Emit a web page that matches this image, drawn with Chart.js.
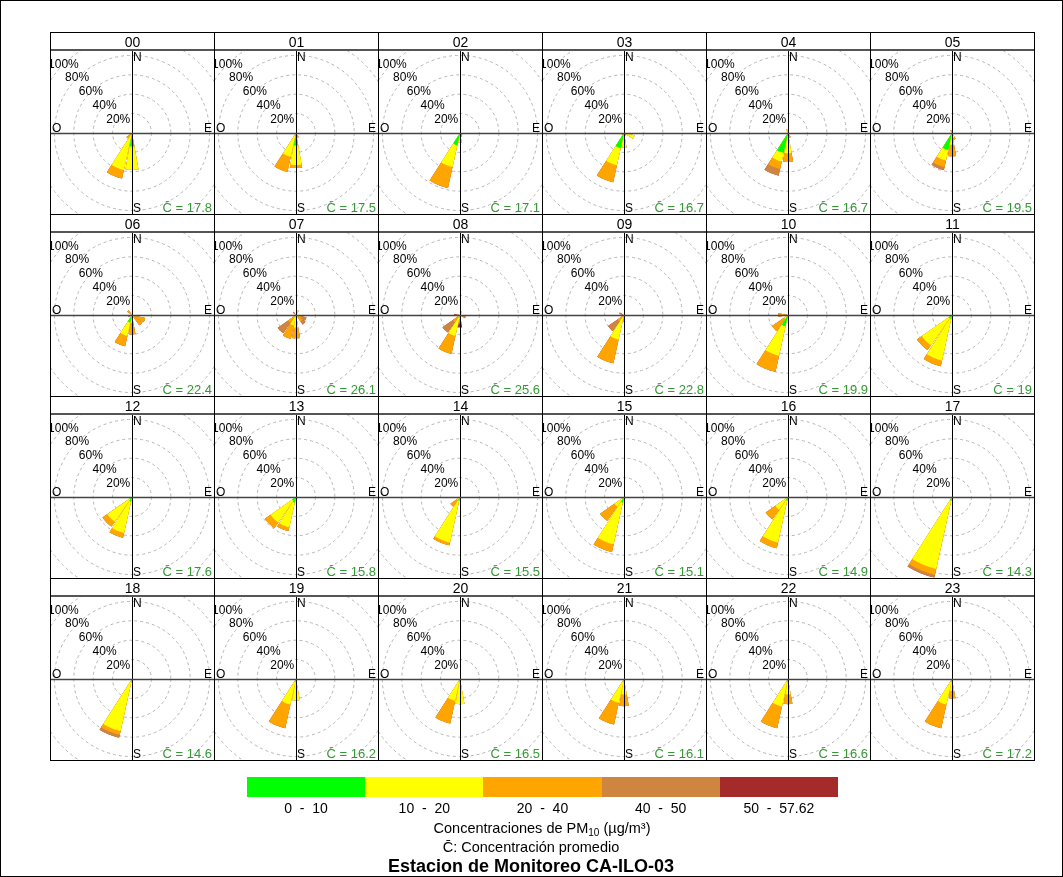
<!DOCTYPE html>
<html>
<head>
<meta charset="utf-8">
<script src="https://cdn.jsdelivr.net/npm/chart.js@4/dist/chart.umd.min.js"></script>
<style>
  body { margin: 0; background: #fff; font-family: "Liberation Sans", Arial, sans-serif; }
  #page { position: relative; width: 1063px; height: 877px; overflow: hidden; }
  #frame { position: absolute; left: 0; top: 0; width: 1061px; height: 875px; border: 1px solid #000; }
  .panel { position: absolute; width: 165px; height: 183px; border: 1px solid #000; box-sizing: border-box; overflow: hidden; }
  .strip { position: absolute; z-index: 3; left: 0; top: 0; width: 163px; height: 16px; border-bottom: 2px solid #555; text-align: center; font-size: 14px; line-height: 18px; }
  .plot { position: absolute; left: 0; top: 18px; width: 163px; height: 163px; overflow: hidden; clip-path: inset(0); }
  .plot canvas { position: absolute; left: -16px; top: -15px; }
  .lbl { position: absolute; font-size: 12px; line-height: 12px; white-space: pre; }
  .cbar { position: absolute; color: #339933; font-size: 13px; line-height: 12px; right: 2px; top: 151px; white-space: pre; }
  .key { position: absolute; top: 777px; height: 20px; }
  .keytxt { position: absolute; font-size: 14px; white-space: pre; transform: translate(-50%, -50%); }
</style>
</head>
<body>
<div id="page"><div id="frame"></div></div>
<script>
const hourLabels = ['00', '01', '02', '03', '04', '05', '06', '07', '08', '09', '10', '11',
  '12', '13', '14', '15', '16', '17', '18', '19', '20', '21', '22', '23'];
const directions = ['N', 'NNE', 'NE', 'ENE', 'E', 'ESE', 'SE', 'SSE', 'S', 'SSW', 'SW', 'WSW', 'W', 'WNW', 'NW', 'NNW'];
const binLabels = ['0  -  10', '10  -  20', '20  -  40', '40  -  50', '50  -  57.62'];
const binColors = ['#00ff00', '#ffff00', '#ffa500', '#cd853f', '#a52a2a'];
const ringTicks = [20, 40, 60, 80, 100];
const meanConc = [17.8, 17.5, 17.1, 16.7, 16.7, 19.5, 22.4, 26.1, 25.6, 22.8, 19.9, 19,
  17.6, 15.8, 15.5, 15.1, 14.9, 14.3, 14.6, 16.2, 16.5, 16.1, 16.6, 17.2];

// frequency (%) by direction: [dir, 0-10, 10-20, 20-40, 40-50, 50-57.62]
const hour00 = [['S', 14, 24, 0, 0, 0], ['SSW', 2, 37, 9, 0, 0], ['SW', 0, 2, 5, 0, 0], ['ESE', 0, 0, 0, 0, 2]];
const hour01 = [['S', 13, 20, 3, 0, 0], ['SSW', 3, 22, 16, 0, 0], ['SSE', 0, 2, 3, 0, 0]];
const hour02 = [['SSW', 13, 23, 22, 0, 0], ['S', 0, 10, 0, 0, 0], ['SE', 0, 0, 3, 0, 0], ['SSE', 0, 2, 2, 0, 0]];
const hour03 = [['SSW', 16, 18, 18, 0, 0], ['S', 2, 13, 0, 0, 0], ['ESE', 0, 11, 0, 0, 0], ['SE', 0, 0, 3, 0, 0], ['SW', 0, 0, 3, 0, 0]];
const hour04 = [['SSW', 21, 9, 8, 7, 0], ['S', 3, 18, 9, 0, 0], ['NNW', 0, 4, 0, 0, 0], ['SSE', 0, 3, 2, 0, 0]];
const hour05 = [['SSW', 18, 11, 7, 3, 0], ['S', 2, 10, 12, 0, 0], ['SSE', 0, 5, 2, 0, 0], ['NNW', 0, 0, 3, 0, 0]];
const hour06 = [['SSW', 8, 14, 11, 0, 0], ['S', 2, 6, 12, 0, 0], ['SE', 0, 3, 10, 0, 0], ['ESE', 0, 2, 12, 0, 0], ['WSW', 0, 0, 0, 0, 4], ['NW', 0, 0, 6, 0, 0]];
const hour07 = [['SW', 0, 2, 8, 13, 0], ['SSW', 1, 10, 14, 0, 0], ['S', 1, 12, 11, 0, 0], ['SE', 0, 3, 5, 4, 0], ['ESE', 0, 2, 4, 5, 0], ['NNE', 0, 5, 0, 0, 0], ['NW', 0, 0, 0, 4, 0]];
const hour08 = [['SSW', 3, 19, 19, 0, 0], ['SW', 0, 3, 6, 13, 0], ['S', 1, 3, 3, 2, 4], ['W', 0, 0, 0, 2, 4], ['ESE', 0, 0, 2, 4, 0], ['NNE', 0, 4, 0, 0, 0]];
const hour09 = [['SSW', 2, 24, 25, 0, 0], ['SW', 0, 2, 6, 12, 0], ['WNW', 0, 0, 0, 5, 0], ['S', 0, 2, 5, 0, 0]];
const hour10 = [['SSW', 12, 31, 17, 0, 0], ['SW', 0, 5, 15, 0, 0], ['W', 0, 0, 10, 0, 0]];
const hour11 = [['SW', 4, 34, 6, 0, 0], ['SSW', 4, 44, 6, 0, 0]];
const hour12 = [['SW', 3, 28, 6, 0, 0], ['SSW', 5, 33, 5, 0, 0]];
const hour13 = [['SW', 5, 27, 7, 0, 0], ['SSW', 6, 26, 4, 0, 0]];
const hour14 = [['SSW', 4, 44, 3, 0, 0], ['SW', 0, 4, 8, 0, 0]];
const hour15 = [['SSW', 6, 44, 8, 0, 0], ['SW', 2, 10, 18, 0, 0]];
const hour16 = [['SSW', 4, 44, 6, 0, 0], ['SW', 2, 14, 12, 0, 0]];
const hour17 = [['SSW', 4, 72, 6, 3, 0]];
const hour18 = [['SSW', 3, 52, 4, 3, 0]];
const hour19 = [['SSW', 3, 24, 25, 0, 0], ['S', 2, 20, 0, 0, 0]];
const hour20 = [['SSW', 3, 20, 24, 0, 0], ['S', 2, 24, 0, 0, 0]];
const hour21 = [['SSW', 3, 22, 23, 0, 0], ['S', 2, 14, 12, 0, 0]];
const hour22 = [['SSW', 3, 26, 23, 0, 0], ['S', 2, 14, 10, 0, 0]];
const hour23 = [['SSW', 3, 24, 25, 0, 0], ['S', 2, 10, 8, 0, 0]];

const hours = [hour00, hour01, hour02, hour03, hour04, hour05, hour06, hour07, hour08, hour09, hour10, hour11,
  hour12, hour13, hour14, hour15, hour16, hour17, hour18, hour19, hour20, hour21, hour22, hour23];

const barAngle = 20.25;   // 90% of a 22.5 degree sector
const gapAngle = 22.5 - barAngle;

// each direction gets a bar slot and a small empty slot
const roseLabels = directions.flatMap(d => [d, '']);

function buildDatasets(rows) {
  // cumulative rings, smallest first so it is drawn on top
  const sets = binColors.map(c => ({
    data: [],
    backgroundColor: c,
    borderWidth: 0,
    angle: ctx => (ctx.dataIndex % 2 ? gapAngle : barAngle)
  }));
  directions.forEach(d => {
    const row = rows.find(r => r[0] === d);
    let cum = 0;
    for (let k = 0; k < binColors.length; k++) {
      cum += row ? row[k + 1] : 0;
      sets[k].data.push(cum, 0);
    }
  });
  return sets;
}

const roseDecor = {
  id: 'roseDecor',
  afterDatasetsDraw(chart) {
    const r = chart.scales.r;
    const ctx = chart.ctx;
    ctx.save();
    ctx.strokeStyle = '#000';
    ctx.lineWidth = 1;
    ctx.beginPath();
    ctx.moveTo(r.xCenter + 0.5, 0);
    ctx.lineTo(r.xCenter + 0.5, chart.height);
    ctx.stroke();
    ctx.strokeStyle = '#444';
    ctx.lineWidth = 1.5;
    ctx.beginPath();
    ctx.moveTo(0, r.yCenter + 0.5);
    ctx.lineTo(chart.width, r.yCenter + 0.5);
    ctx.stroke();
    ctx.fillStyle = '#000';
    ctx.font = '12px "Liberation Sans", Arial, sans-serif';
    ctx.textAlign = 'center';
    ctx.textBaseline = 'middle';
    ringTicks.forEach(v => {
      const d = r.getDistanceFromCenterForValue(v) * Math.SQRT1_2;
      ctx.fillText(v + '%', r.xCenter - d, r.yCenter - d);
    });
    ctx.restore();
  }
};

const page = document.getElementById('page');

hours.forEach((rows, i) => {
  const col = i % 6, row = Math.floor(i / 6);
  const panel = document.createElement('div');
  panel.className = 'panel';
  panel.style.left = (50 + col * 164) + 'px';
  panel.style.top = (32 + row * 182) + 'px';
  panel.innerHTML =
    '<div class="strip">' + hourLabels[i] + '</div>' +
    '<div class="plot"><canvas width="194" height="194"></canvas>' +
    '<div class="lbl" style="left:82px;top:0px">N</div>' +
    '<div class="lbl" style="left:82px;top:151px">S</div>' +
    '<div class="lbl" style="left:1px;top:71px">O</div>' +
    '<div class="lbl" style="right:2px;top:71px">E</div>' +
    '<div class="cbar">C\u0304 = ' + meanConc[i] + '</div></div>';
  page.appendChild(panel);

  new Chart(panel.querySelector('canvas'), {
    type: 'polarArea',
    data: { labels: roseLabels, datasets: buildDatasets(rows) },
    options: {
      responsive: false,
      animation: false,
      devicePixelRatio: 1,
      layout: { padding: 0 },
      plugins: { legend: { display: false }, tooltip: { enabled: false } },
      scales: {
        r: {
          min: 0,
          max: 100,
          startAngle: -barAngle / 2,
          ticks: { display: false, stepSize: 20 },
          grid: { circular: true, color: '#b4b4b4', lineWidth: 1 },
          border: { dash: [3, 3] },
          angleLines: { display: false },
          pointLabels: { display: false }
        }
      }
    },
    plugins: [roseDecor]
  });
});

// colour key
binColors.forEach((c, k) => {
  const w = 591 / binColors.length;
  const box = document.createElement('div');
  box.className = 'key';
  box.style.left = (247 + k * w) + 'px';
  box.style.width = w + 'px';
  box.style.background = c;
  page.appendChild(box);
  const t = document.createElement('div');
  t.className = 'keytxt';
  t.style.left = (247 + (k + 0.5) * w) + 'px';
  t.style.top = '808px';
  t.textContent = binLabels[k];
  page.appendChild(t);
});

function addText(html, x, y, extra) {
  const t = document.createElement('div');
  t.className = 'keytxt';
  t.style.left = x + 'px';
  t.style.top = y + 'px';
  if (extra) t.style.cssText += extra;
  t.innerHTML = html;
  page.appendChild(t);
}
addText('Concentraciones de PM<sub style="font-size:10px">10</sub> (µg/m³)', 542, 829, 'font-size:14.5px');
addText('C\u0304: Concentración promedio', 531, 847, 'font-size:14.5px');
addText('Estacion de Monitoreo CA-ILO-03', 531, 866, 'font-size:18px;font-weight:bold');
</script>
</body>
</html>
